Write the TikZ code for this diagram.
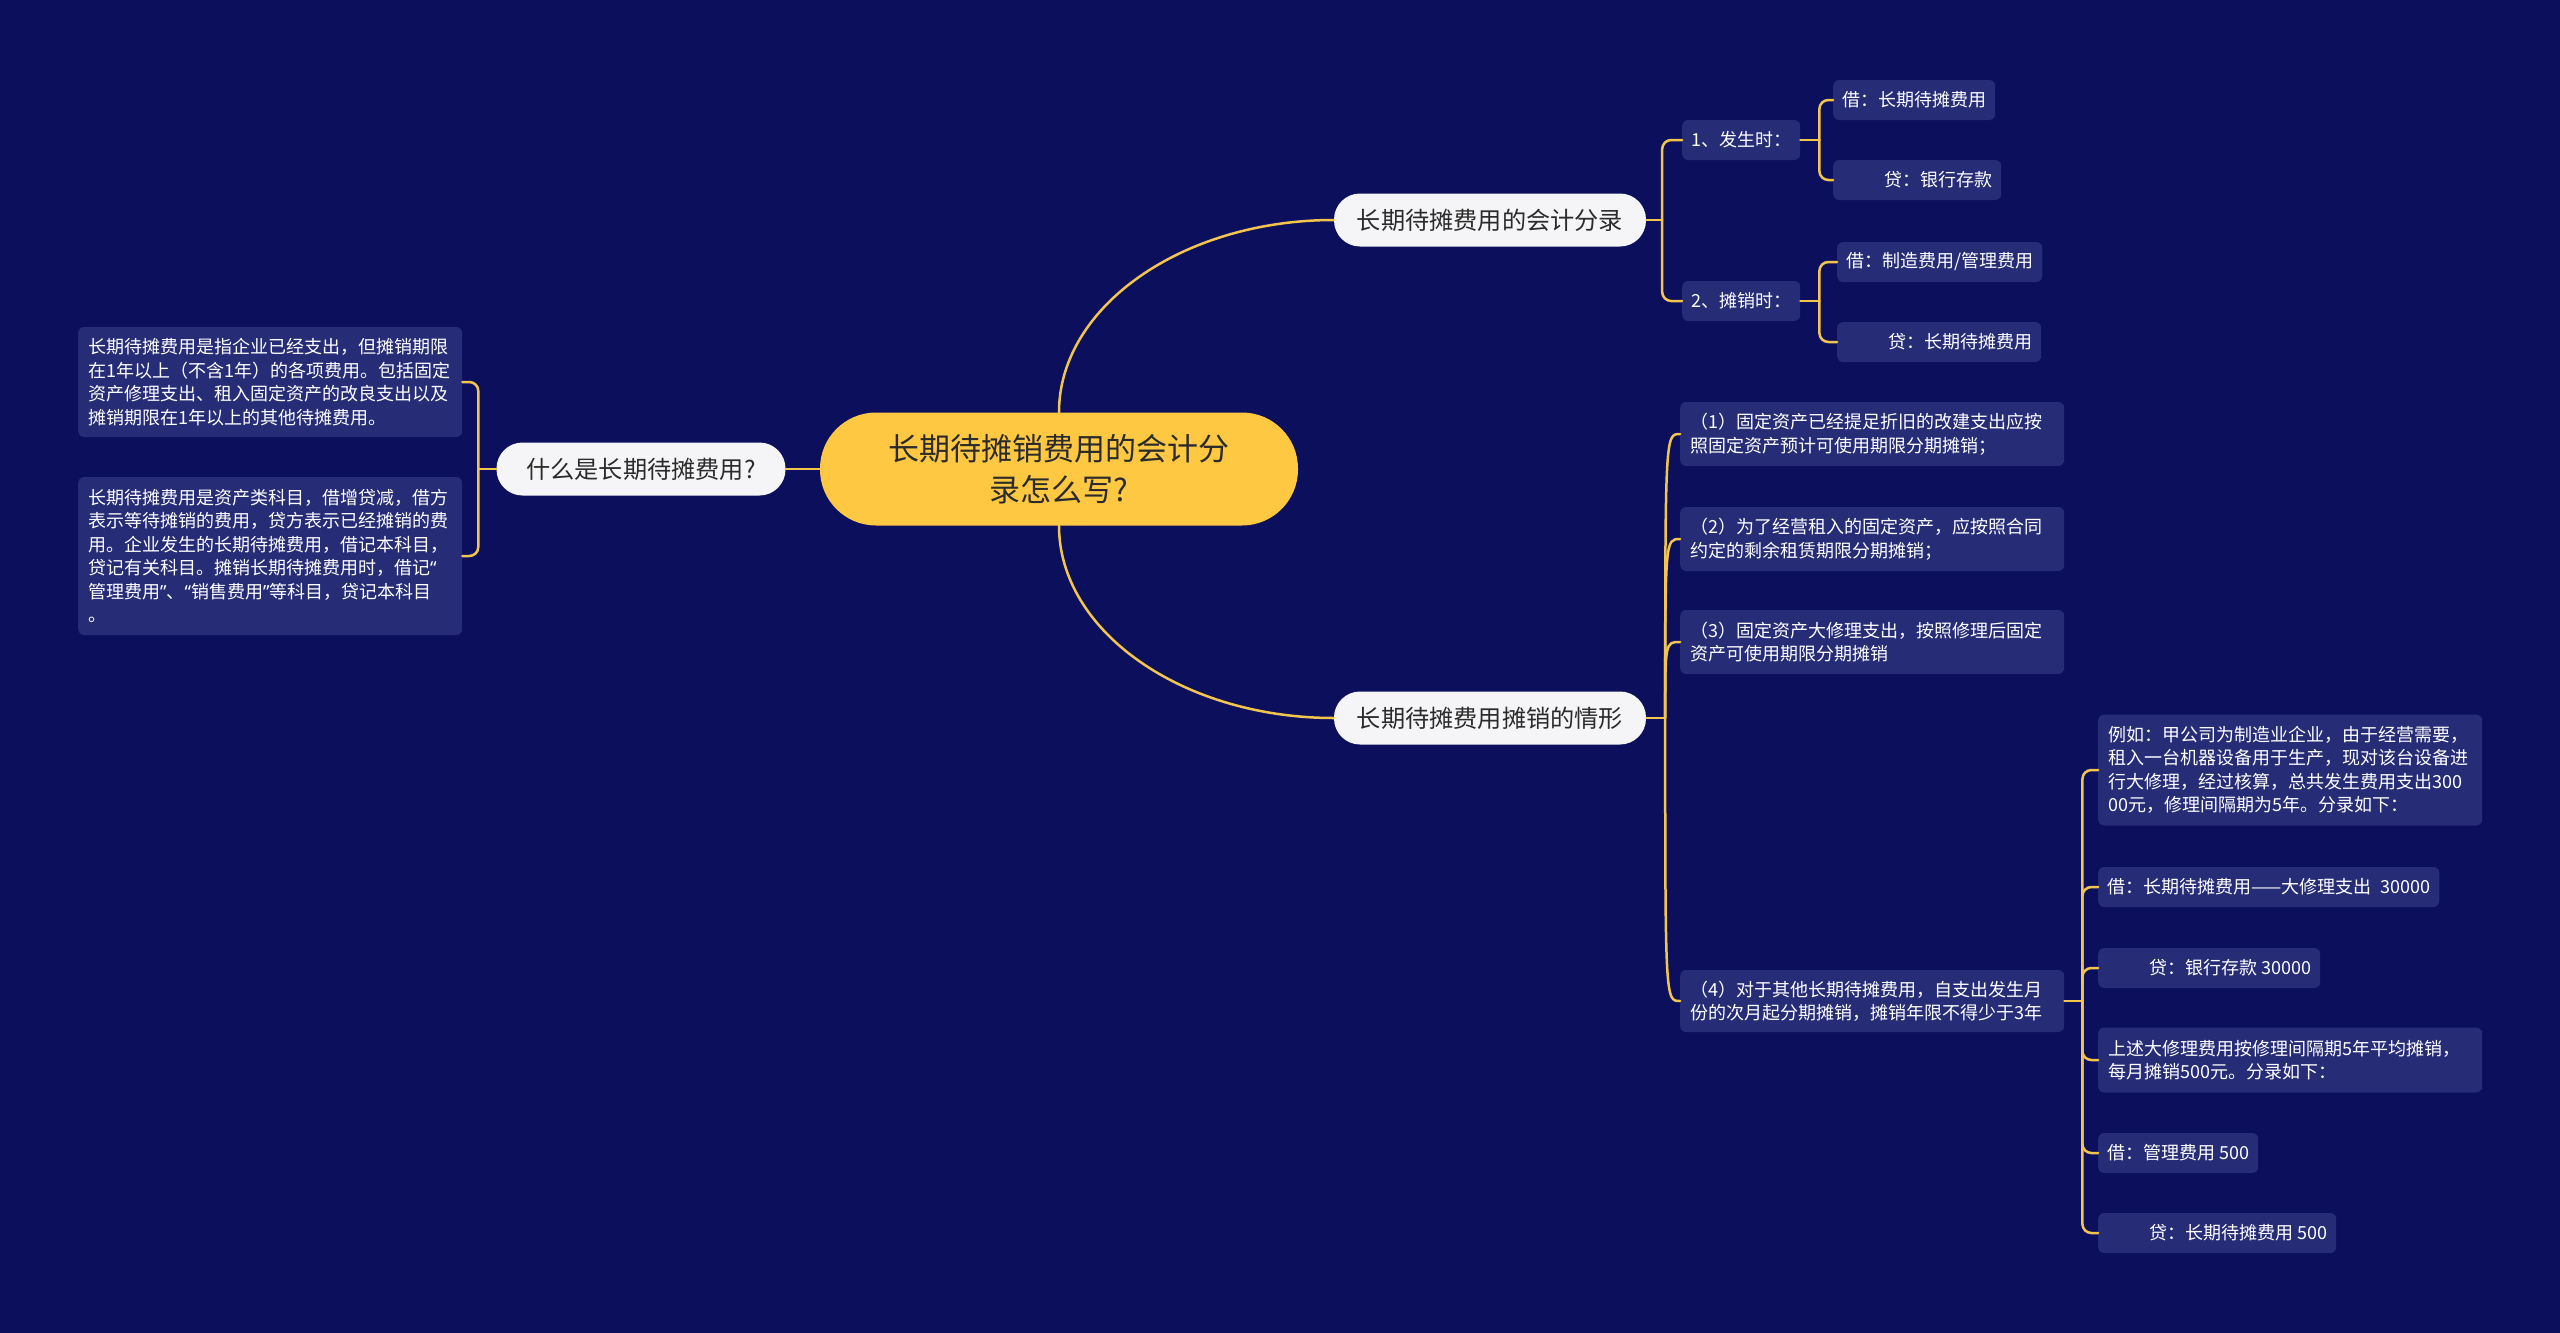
\documentclass[tikz,border=0pt]{standalone}
\usepackage{fontspec}
\setmainfont{Noto Sans CJK SC}
\newfontfamily\qfont{Noto Sans}
\newcommand{\myLq}{{\qfont “}}
\newcommand{\myRq}{{\qfont ”}}
\usetikzlibrary{calc}
\definecolor{bgc}{HTML}{0B0F5C}
\definecolor{boxc}{HTML}{262C76}
\definecolor{linec}{HTML}{F4C54E}
\definecolor{rootc}{HTML}{FFC842}
\definecolor{lvlc}{HTML}{F5F5F7}
\definecolor{darkt}{HTML}{2B2B2B}
\tikzset{
  conn/.style={draw=linec, line width=2.5pt, line cap=round},
  bracket/.style={conn, rounded corners=9pt},
  leaf/.style={fill=boxc, text=white, rounded corners=6pt, inner xsep=9pt, inner ysep=0pt,
    minimum height=40pt, font=\fontsize{18}{23.5}\selectfont, anchor=west},
  para/.style={leaf, text width=364pt, align=left, inner xsep=10pt},
  lvlone/.style={fill=lvlc, text=darkt, rounded corners=26pt, minimum height=53pt,
    font=\fontsize{24.2}{30}\selectfont, inner xsep=0pt},
  rootn/.style={fill=rootc, text=darkt, rounded corners=56pt, minimum width=478pt,
    minimum height=113pt, align=center, font=\fontsize{31}{41}\selectfont},
}
\begin{document}
\begin{tikzpicture}[x=1pt,y=-1pt]
\fill[bgc] (0,0) rectangle (2560,1333);
\useasboundingbox (0,0) rectangle (2560,1333);

% central and first level
\node[rootn] (root) at (1059,469) {长期待摊销费用的会计分\\录怎么写?};
\node[lvlone, minimum width=289pt] (what) at (641,469) {什么是长期待摊费用?};
\node[lvlone, minimum width=312pt] (acc) at (1490,220) {长期待摊费用的会计分录};
\node[lvlone, minimum width=312pt] (cases) at (1490,718) {长期待摊费用摊销的情形};

% left side
\node[para, minimum height=110pt] (def) at (78,382) {长期待摊费用是指企业已经支出，但摊销期限\\在1年以上（不含1年）的各项费用。包括固定\\资产修理支出、租入固定资产的改良支出以及\\摊销期限在1年以上的其他待摊费用。};
\node[para, minimum height=158pt] (subj) at (78,556) {长期待摊费用是资产类科目，借增贷减，借方\\表示等待摊销的费用，贷方表示已经摊销的费\\用。企业发生的长期待摊费用，借记本科目，\\贷记有关科目。摊销长期待摊费用时，借记\myLq\\管理费用\myRq、\myLq 销售费用\myRq 等科目，贷记本科目\\。};

% accounting entries
\node[leaf] (occur) at (1682,140) {1、发生时：};
\node[leaf] (amort) at (1682,301) {2、摊销时：};
\node[leaf] (d1) at (1833,100) {借：长期待摊费用};
\node[leaf] (k1) at (1833,180) {\hspace*{42pt}贷：银行存款};
\node[leaf] (d2) at (1837,262) {借：制造费用/管理费用};
\node[leaf] (k2) at (1837,342) {\hspace*{42pt}贷：长期待摊费用};

% cases
\node[para, minimum height=64pt] (s1) at (1680,434) {（1）固定资产已经提足折旧的改建支出应按\\照固定资产预计可使用期限分期摊销；};
\node[para, minimum height=64pt] (s2) at (1680,539) {（2）为了经营租入的固定资产，应按照合同\\约定的剩余租赁期限分期摊销；};
\node[para, minimum height=64pt] (s3) at (1680,642) {（3）固定资产大修理支出，按照修理后固定\\资产可使用期限分期摊销};
\node[para, minimum height=62pt] (s4) at (1680,1001) {（4）对于其他长期待摊费用，自支出发生月\\份的次月起分期摊销，摊销年限不得少于3年};

% example
\node[para, minimum height=111pt] (e1) at (2098,770) {例如：甲公司为制造业企业，由于经营需要，\\租入一台机器设备用于生产，现对该台设备进\\行大修理，经过核算，总共发生费用支出300\\00元，修理间隔期为5年。分录如下：};
\node[leaf] (e2) at (2098,887) {借：长期待摊费用——大修理支出\hspace{9pt}30000};
\node[leaf] (e3) at (2098,968) {\hspace*{42pt}贷：银行存款 30000};
\node[para, minimum height=65pt] (e4) at (2098,1060) {上述大修理费用按修理间隔期5年平均摊销，\\每月摊销500元。分录如下：};
\node[leaf] (e5) at (2098,1153) {借：管理费用 500};
\node[leaf] (e6) at (2098,1233) {\hspace*{42pt}贷：长期待摊费用 500};

% junctions
\coordinate (Jl) at ([xshift=-18pt]what.west);
\coordinate (J1) at ([xshift=16pt]acc.east);
\coordinate (Jo) at ([xshift=19pt]occur.east);
\coordinate (Ja) at ([xshift=19pt]amort.east);
\coordinate (J2) at ([xshift=19pt]cases.east);
\coordinate (J3) at ([xshift=18pt]s4.east);

% connectors from root
\draw[conn] (root.west) -- (what.east);
\draw[conn] (root.north) .. controls ($(root.north)!0.55!(root.north |- acc.west)$) and ($(acc.west)!0.55!(root.north |- acc.west)$) .. (acc.west);
\draw[conn] (root.south) .. controls ($(root.south)!0.55!(root.south |- cases.west)$) and ($(cases.west)!0.55!(root.south |- cases.west)$) .. (cases.west);

% left bracket
\draw[conn] (what.west) -- (Jl);
\draw[bracket] (Jl) |- (def.east);
\draw[bracket] (Jl) |- (subj.east);

% accounting brackets
\draw[conn] (acc.east) -- (J1);
\draw[bracket] (J1) |- (occur.west);
\draw[bracket] (J1) |- (amort.west);
\draw[conn] (occur.east) -- (Jo);
\draw[bracket] (Jo) |- (d1.west);
\draw[bracket] (Jo) |- (k1.west);
\draw[conn] (amort.east) -- (Ja);
\draw[bracket] (Ja) |- (d2.west);
\draw[bracket] (Ja) |- (k2.west);

% cases curves
\draw[conn] (cases.east) -- (J2);
\draw[conn] (J2) .. controls (J2 |- s1.west) .. (s1.west);
\draw[conn] (J2) .. controls (J2 |- s2.west) .. (s2.west);
\draw[conn] (J2) .. controls (J2 |- s3.west) .. (s3.west);
\draw[conn] (J2) .. controls (J2 |- s4.west) .. (s4.west);

% example bracket
\draw[conn] (s4.east) -- (J3);
\draw[bracket] (J3) |- (e1.west);
\draw[bracket] (J3) |- (e2.west);
\draw[bracket] (J3) |- (e3.west);
\draw[bracket] (J3) |- (e4.west);
\draw[bracket] (J3) |- (e5.west);
\draw[bracket] (J3) |- (e6.west);
\end{tikzpicture}
\end{document}
